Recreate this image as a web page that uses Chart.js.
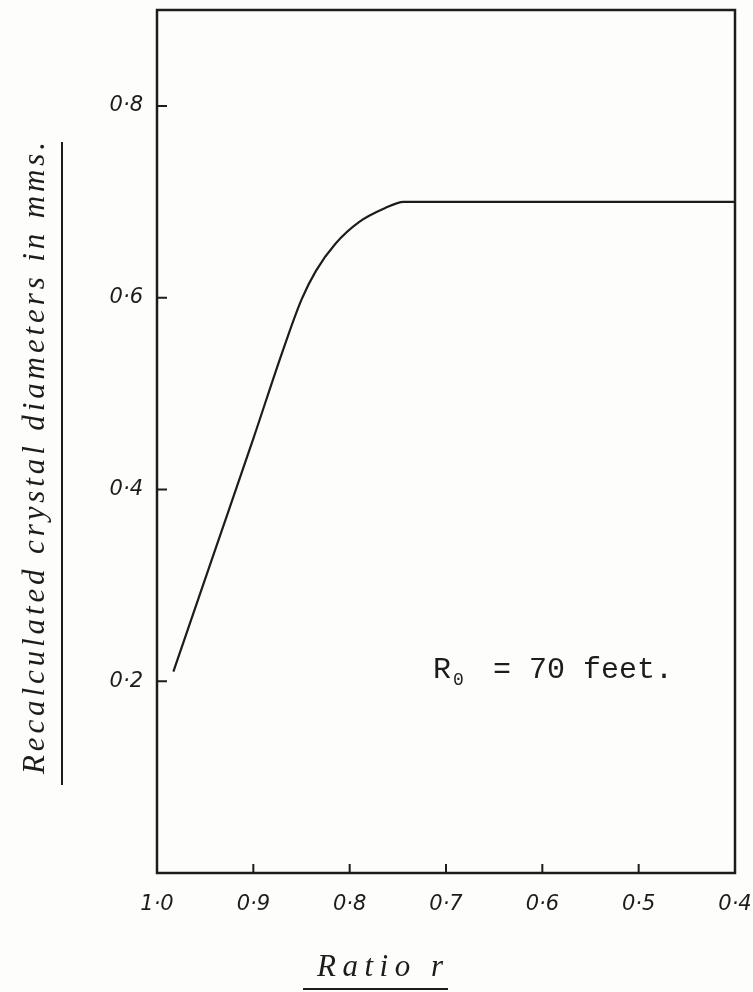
<!DOCTYPE html>
<html>
<head>
<meta charset="utf-8">
<title>Recalculated crystal diameters</title>
<script src="https://cdn.jsdelivr.net/npm/chart.js@4.4.0/dist/chart.umd.min.js"></script>
<style>
  html, body { margin: 0; padding: 0; background: #fdfdfb; }
  #chart { display: block; }
</style>
</head>
<body>
<canvas id="chart" width="753" height="992"></canvas>
<script>
"use strict";
// data (ratio r against diameter in mms)
const ratioValues = [0.983, 0.94, 0.9, 0.87, 0.85, 0.835, 0.815, 0.79, 0.764, 0.744, 0.6, 0.4];
const diameterValues = [0.21, 0.336, 0.453, 0.543, 0.598, 0.628, 0.656, 0.679, 0.693, 0.7, 0.7, 0.7];

// axis ticks
const xTickValues = [1.0, 0.9, 0.8, 0.7, 0.6, 0.5, 0.4];
const xTickLabels = ["1·0", "0·9", "0·8", "0·7", "0·6", "0·5", "0·4"];
const yTickValues = [0.2, 0.4, 0.6, 0.8];
const yTickLabels = ["0·2", "0·4", "0·6", "0·8"];

// text
const xTitle = "Ratio r";
const yTitle = "Recalculated crystal diameters in mms.";
const noteMain = "R";
const noteSub = "0";
const noteRest = " = 70 feet.";

const ink = "#1c1c1c";

// draw text stretched with letter spacing to fill a given width
const spacedText = function (ctx, text, x, y, width) {
  ctx.letterSpacing = "0px";
  const w = ctx.measureText(text).width;
  const gap = Math.max(0, (width - w) / (text.length - 1));
  ctx.letterSpacing = gap + "px";
  ctx.fillText(text, x - width / 2, y);
  ctx.letterSpacing = "0px";
};

// frame, inward tick marks, titles and note
const decorPlugin = {
  id: "decor",
  afterDraw(chart) {
    const ctx = chart.ctx;
    const area = chart.chartArea;
    const xs = chart.scales.x;
    const ys = chart.scales.y;
    ctx.save();
    ctx.strokeStyle = ink;
    ctx.fillStyle = ink;

    // box round the plot
    ctx.lineWidth = 2.5;
    ctx.strokeRect(area.left, area.top, area.right - area.left, area.bottom - area.top);

    // tick marks inside the box
    ctx.lineWidth = 2;
    ctx.beginPath();
    for (let i = 0; i < yTickValues.length; i++) {
      const py = ys.getPixelForValue(yTickValues[i]);
      ctx.moveTo(area.left, py);
      ctx.lineTo(area.left + 10, py);
    }
    for (let i = 1; i < xTickValues.length - 1; i++) {
      const px = xs.getPixelForValue(xTickValues[i]);
      ctx.moveTo(px, area.bottom);
      ctx.lineTo(px, area.bottom - 9);
    }
    ctx.stroke();

    // y title, rotated, with a rule beside it
    ctx.font = "italic 31px 'Liberation Serif'";
    ctx.textAlign = "left";
    ctx.textBaseline = "middle";
    ctx.save();
    ctx.translate(36, 458);
    ctx.rotate(-Math.PI / 2);
    spacedText(ctx, yTitle, 0, 0, 632);
    ctx.restore();
    ctx.lineWidth = 2;
    ctx.beginPath();
    ctx.moveTo(62, 142);
    ctx.lineTo(62, 785);
    ctx.stroke();

    // x title with underline
    spacedText(ctx, xTitle, 380, 968, 126);
    ctx.beginPath();
    ctx.moveTo(303, 989);
    ctx.lineTo(448, 989);
    ctx.stroke();

    // note in typewriter face
    ctx.textBaseline = "alphabetic";
    ctx.font = "30px 'Liberation Mono'";
    ctx.fillText(noteMain, 433, 678);
    ctx.fillText(noteRest, 475, 678);
    ctx.font = "18px 'Liberation Mono'";
    ctx.fillText(noteSub, 453, 685);

    ctx.restore();
  },
};

const chartCanvas = document.getElementById("chart").getContext("2d");

new Chart(chartCanvas, {
  type: "line",
  data: {
    datasets: [
      {
        data: ratioValues.map((r, i) => ({ x: r, y: diameterValues[i] })),
        borderColor: ink,
        borderWidth: 2.2,
        pointRadius: 0,
        fill: false,
        cubicInterpolationMode: "monotone",
      },
    ],
  },
  options: {
    responsive: false,
    animation: false,
    layout: { padding: { left: 0, right: 18, top: 10, bottom: 0 } },
    plugins: {
      legend: { display: false },
      tooltip: { enabled: false },
    },
    scales: {
      x: {
        type: "linear",
        reverse: true,
        min: 0.4,
        max: 1.0,
        afterBuildTicks: (scale) => {
          scale.ticks = xTickValues.map((v) => ({ value: v }));
        },
        afterFit: (scale) => {
          scale.height = 119;
          scale.paddingLeft = 0;
          scale.paddingRight = 0;
        },
        grid: { display: false, drawTicks: false },
        border: { display: false },
        ticks: {
          padding: 19,
          color: ink,
          maxRotation: 0,
          autoSkip: false,
          font: { family: "'DejaVu Sans'", style: "italic", size: 21 },
          callback: (value) => {
            const i = xTickValues.findIndex((v) => Math.abs(v - value) < 1e-6);
            return i >= 0 ? xTickLabels[i] : "";
          },
        },
      },
      y: {
        type: "linear",
        min: 0,
        max: 0.9,
        afterBuildTicks: (scale) => {
          scale.ticks = yTickValues.map((v) => ({ value: v }));
        },
        afterFit: (scale) => {
          scale.width = 157;
          scale.paddingTop = 0;
          scale.paddingBottom = 0;
        },
        grid: { display: false, drawTicks: false },
        border: { display: false },
        ticks: {
          padding: 14,
          color: ink,
          autoSkip: false,
          font: { family: "'DejaVu Sans'", style: "italic", size: 21 },
          callback: (value) => {
            const i = yTickValues.findIndex((v) => Math.abs(v - value) < 1e-6);
            return i >= 0 ? yTickLabels[i] : "";
          },
        },
      },
    },
  },
  plugins: [decorPlugin],
});
</script>
</body>
</html>
